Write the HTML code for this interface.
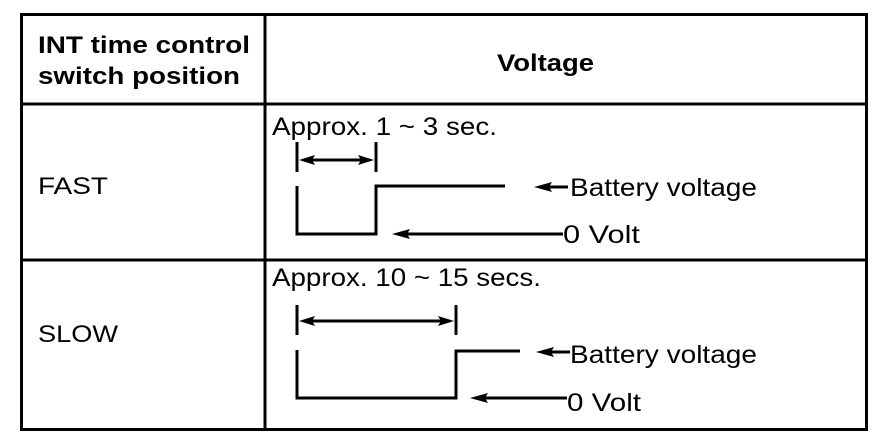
<!DOCTYPE html>
<html><head><meta charset="utf-8"><style>
html,body{margin:0;padding:0;background:#fff;}
svg{display:block;}
text{font-family:"Liberation Sans",Arial,sans-serif;fill:#000;}
</style></head><body>
<svg width="896" height="440" viewBox="0 0 896 440" xmlns="http://www.w3.org/2000/svg">
<g stroke="#000" stroke-width="3" fill="none">
<rect x="21.5" y="14.5" width="845" height="415"/>
<line x1="265" y1="14" x2="265" y2="430"/>
<line x1="21" y1="104" x2="867" y2="104"/>
<line x1="21" y1="260" x2="867" y2="260"/>
</g>
<text x="38" y="53" font-size="24" font-weight="bold" textLength="212" lengthAdjust="spacingAndGlyphs">INT time control</text>
<text x="38" y="84" font-size="24" font-weight="bold" textLength="202" lengthAdjust="spacingAndGlyphs">switch position</text>
<text x="497" y="71" font-size="24" font-weight="bold" textLength="97" lengthAdjust="spacingAndGlyphs">Voltage</text>
<text x="38" y="194" font-size="24" textLength="70" lengthAdjust="spacingAndGlyphs">FAST</text>
<text x="38" y="342" font-size="24" textLength="80" lengthAdjust="spacingAndGlyphs">SLOW</text>

<text x="272" y="135" font-size="25" textLength="225" lengthAdjust="spacingAndGlyphs">Approx. 1 ~ 3 sec.</text>
<g stroke="#000" stroke-width="3" fill="none">
<line x1="297" y1="142" x2="297" y2="172"/>
<line x1="376" y1="142" x2="376" y2="172"/>
<line x1="305" y1="160" x2="368" y2="160"/>
<polyline points="297,186 297,234 376,234 376,186 505,186"/>
<line x1="548" y1="187" x2="568" y2="187"/>
<line x1="405" y1="234" x2="563" y2="234"/>
</g>
<path d="M299,160 l16,-5 l-3,5 l3,5 Z M374,160 l-16,-5 l3,5 l-3,5 Z" fill="#000"/>
<path d="M534,187 l18,-5 l-3,5 l3,5 Z" fill="#000"/>
<path d="M392,234 l18,-5 l-3,5 l3,5 Z" fill="#000"/>
<text x="570" y="196" font-size="25" textLength="187" lengthAdjust="spacingAndGlyphs">Battery voltage</text>
<text x="563" y="243" font-size="25" textLength="77" lengthAdjust="spacingAndGlyphs">0 Volt</text>

<text x="272" y="286" font-size="25" textLength="269" lengthAdjust="spacingAndGlyphs">Approx. 10 ~ 15 secs.</text>
<g stroke="#000" stroke-width="3" fill="none">
<line x1="297" y1="305" x2="297" y2="335"/>
<line x1="456" y1="305" x2="456" y2="335"/>
<line x1="305" y1="321" x2="448" y2="321"/>
<polyline points="297,350 297,398 456,398 456,351 520,351"/>
<line x1="550" y1="352" x2="570" y2="352"/>
<line x1="485" y1="398" x2="567" y2="398"/>
</g>
<path d="M299,321 l16,-5 l-3,5 l3,5 Z M454,321 l-16,-5 l3,5 l-3,5 Z" fill="#000"/>
<path d="M536,352 l18,-5 l-3,5 l3,5 Z" fill="#000"/>
<path d="M470,398 l18,-5 l-3,5 l3,5 Z" fill="#000"/>
<text x="570" y="363" font-size="25" textLength="187" lengthAdjust="spacingAndGlyphs">Battery voltage</text>
<text x="567" y="411" font-size="25" textLength="74" lengthAdjust="spacingAndGlyphs">0 Volt</text>
</svg>
</body></html>
